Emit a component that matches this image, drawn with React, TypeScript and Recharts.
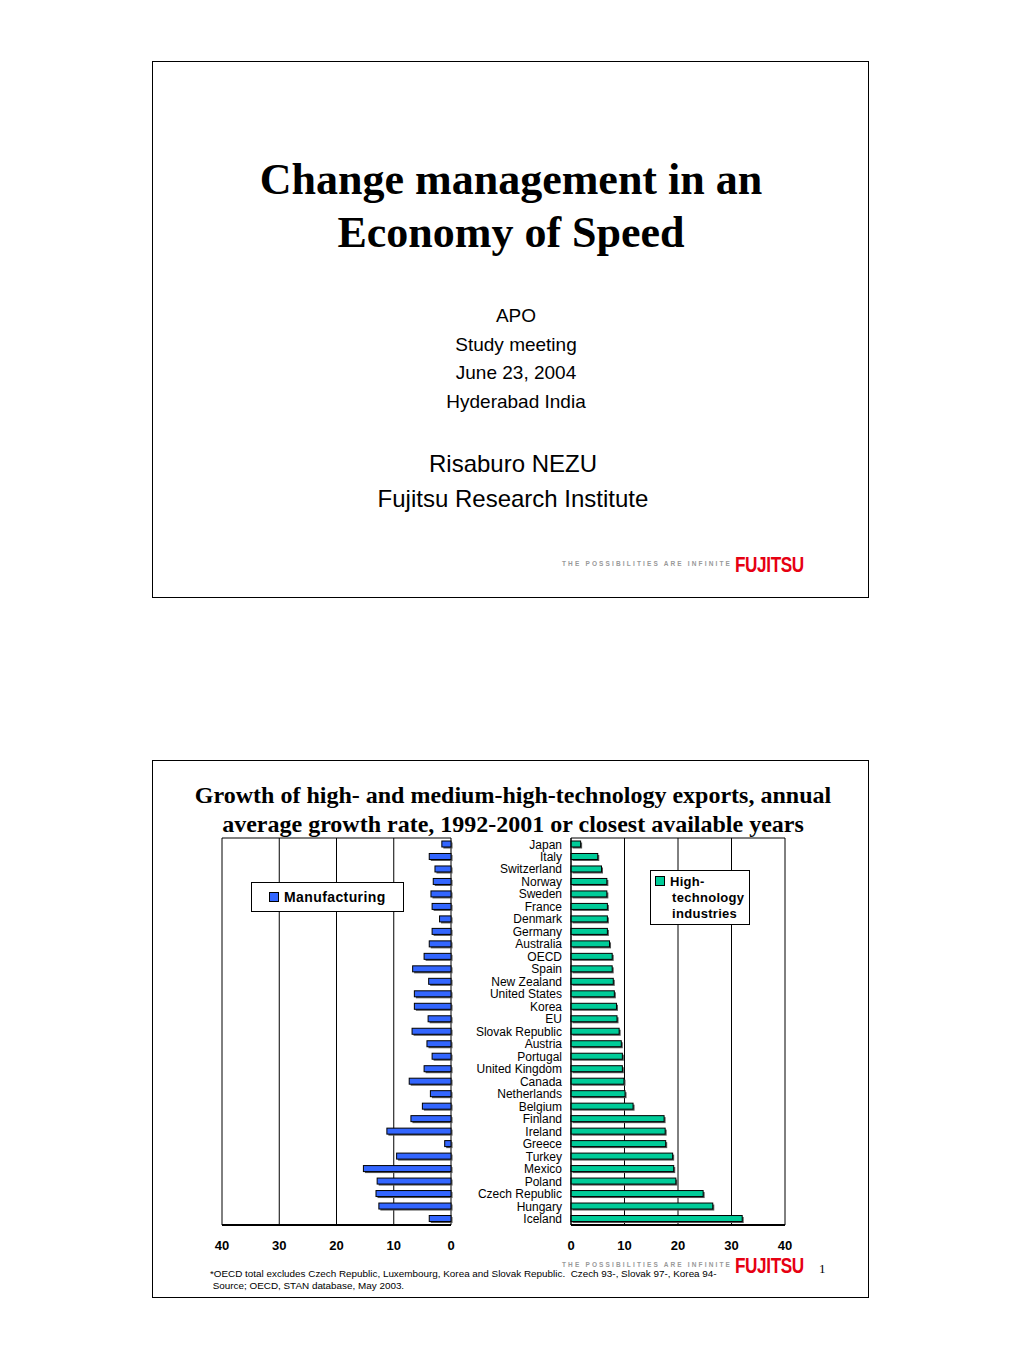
import React from "react";
import { BarChart, Bar, XAxis, YAxis, CartesianGrid } from "recharts";

const countries = [
  "Japan", "Italy", "Switzerland", "Norway", "Sweden", "France", "Denmark", "Germany",
  "Australia", "OECD", "Spain", "New Zealand", "United States", "Korea", "EU",
  "Slovak Republic", "Austria", "Portugal", "United Kingdom", "Canada", "Netherlands",
  "Belgium", "Finland", "Ireland", "Greece", "Turkey", "Mexico", "Poland",
  "Czech Republic", "Hungary", "Iceland",
];

const manufacturing = [
  1.6, 3.8, 2.8, 3.1, 3.5, 3.3, 2.0, 3.3, 3.8, 4.7, 6.7, 3.9, 6.4, 6.4, 4.0,
  6.8, 4.2, 3.3, 4.7, 7.3, 3.6, 5.0, 7.0, 11.2, 1.1, 9.5, 15.3, 12.9, 13.1, 12.6, 3.8,
];

const highTech = [
  1.8, 5.0, 5.7, 6.7, 6.7, 6.8, 6.8, 6.8, 7.2, 7.7, 7.7, 7.9, 8.1, 8.5, 8.6,
  9.0, 9.4, 9.6, 9.6, 9.9, 10.1, 11.6, 17.4, 17.6, 17.7, 19.0, 19.2, 19.6, 24.7, 26.5, 32.0,
];

const ticks = [0, 10, 20, 30, 40];

const data = countries.map((c, i) => ({ country: c, mfg: manufacturing[i], hi: highTech[i] }));

const BLUE = "#3366FF";
const GREEN = "#00CC99";
const SANS = "Arial, 'Liberation Sans', sans-serif";
const SERIF = "'Times New Roman', 'Liberation Serif', serif";

function ShadowBar(props: any) {
  const { x, y, width, height, fill } = props;
  const w = Math.abs(width);
  const left = width < 0 ? x + width : x;
  return (
    <g>
      <rect x={left + 1.5} y={y + 1.5} width={w} height={height} fill="#555" />
      <rect x={left} y={y} width={w} height={height} fill={fill} stroke="#000" strokeWidth={1} />
    </g>
  );
}

const frameLines = ({ offset }: any) => [offset.top, offset.top + offset.height];

function LegendBox({ color, lines, style }: { color: string; lines: string[]; style: any }) {
  return (
    <div
      style={{
        position: "absolute",
        border: "1px solid #000",
        background: "#fff",
        fontFamily: SANS,
        fontWeight: "bold",
        fontSize: 13,
        lineHeight: "16px",
        color: "#000",
        ...style,
      }}
    >
      <span
        style={{
          display: "inline-block",
          width: 8,
          height: 8,
          background: color,
          border: "1px solid #000",
          marginRight: 5,
          verticalAlign: "0px",
        }}
      />
      {lines.map((l, i) => (
        <span key={i} style={{ display: i === 0 ? "inline" : "block", paddingLeft: i === 0 ? 0 : 17 }}>
          {l}
        </span>
      ))}
    </div>
  );
}

function FujitsuLogo({ top }: { top: number }) {
  return (
    <div style={{ position: "absolute", left: 560, top, width: 245, height: 28 }}>
      <div
        style={{
          position: "absolute",
          left: 2,
          top: 9,
          fontFamily: SANS,
          fontSize: 6.5,
          letterSpacing: 2.15,
          color: "#999",
          fontWeight: "bold",
          whiteSpace: "nowrap",
        }}
      >
        THE POSSIBILITIES ARE INFINITE
      </div>
      <div
        style={{
          position: "absolute",
          left: 175,
          top: 1,
          fontFamily: SANS,
          fontSize: 22,
          fontWeight: "bold",
          color: "#E60012",
          letterSpacing: -0.5,
          transform: "scaleX(0.78)",
          transformOrigin: "left top",
          whiteSpace: "nowrap",
        }}
      >
        FUJITSU
      </div>
    </div>
  );
}

const tickStyle = { fontSize: 13, fontWeight: "bold", fill: "#000", fontFamily: SANS };

export default function App() {
  return (
    <div style={{ position: "absolute", left: 0, top: 0, width: 1020, height: 1357, background: "#fff" }}>
      {/* title slide */}
      <div style={{ position: "absolute", left: 152, top: 61, width: 715, height: 535, border: "1.5px solid #000" }} />
      <div
        style={{
          position: "absolute",
          left: 152,
          top: 153,
          width: 718,
          textAlign: "center",
          fontFamily: SERIF,
          fontWeight: "bold",
          fontSize: 44,
          lineHeight: "53px",
          color: "#000",
        }}
      >
        Change management in an
        <br />
        Economy of Speed
      </div>
      <div
        style={{
          position: "absolute",
          left: 152,
          top: 302,
          width: 728,
          textAlign: "center",
          fontFamily: SANS,
          fontSize: 19,
          lineHeight: "28.5px",
          color: "#000",
        }}
      >
        APO
        <br />
        Study meeting
        <br />
        June 23, 2004
        <br />
        Hyderabad India
      </div>
      <div
        style={{
          position: "absolute",
          left: 152,
          top: 446,
          width: 722,
          textAlign: "center",
          fontFamily: SANS,
          fontSize: 24,
          lineHeight: "35px",
          color: "#000",
        }}
      >
        Risaburo NEZU
        <br />
        Fujitsu Research Institute
      </div>
      <FujitsuLogo top={551} />

      {/* chart slide */}
      <div style={{ position: "absolute", left: 152, top: 760, width: 715, height: 536, border: "1.5px solid #000" }} />
      <div
        style={{
          position: "absolute",
          left: 152,
          top: 781,
          width: 722,
          textAlign: "center",
          fontFamily: SERIF,
          fontWeight: "bold",
          fontSize: 24,
          lineHeight: "29px",
          color: "#000",
        }}
      >
        Growth of high- and medium-high-technology exports, annual
        <br />
        average growth rate, 1992-2001 or closest available years
      </div>

      {/* left: manufacturing */}
      <div style={{ position: "absolute", left: 212, top: 828 }}>
        <BarChart
          width={250}
          height={440}
          data={data}
          layout="vertical"
          margin={{ top: 10, right: 11, left: 10, bottom: 13 }}
          barCategoryGap={0}
        >
          <CartesianGrid stroke="#000" strokeWidth={1} horizontalCoordinatesGenerator={frameLines} />
          <XAxis
            type="number"
            domain={[0, 40]}
            ticks={ticks}
            reversed
            height={30}
            tickLine={false}
            tickSize={0}
            tickMargin={16}
            axisLine={{ stroke: "#000", strokeWidth: 2 }}
            tick={tickStyle}
            interval={0}
          />
          <YAxis type="category" dataKey="country" hide />
          <Bar dataKey="mfg" fill={BLUE} barSize={6} shape={<ShadowBar />} isAnimationActive={false} />
        </BarChart>
      </div>

      {/* right: high-technology */}
      <div style={{ position: "absolute", left: 461, top: 828 }}>
        <BarChart
          width={335}
          height={440}
          data={data}
          layout="vertical"
          margin={{ top: 10, right: 11, left: 0, bottom: 13 }}
          barCategoryGap={0}
        >
          <CartesianGrid stroke="#000" strokeWidth={1} horizontalCoordinatesGenerator={frameLines} />
          <XAxis
            type="number"
            domain={[0, 40]}
            ticks={ticks}
            height={30}
            tickLine={false}
            tickSize={0}
            tickMargin={16}
            axisLine={{ stroke: "#000", strokeWidth: 2 }}
            tick={tickStyle}
            interval={0}
          />
          <YAxis
            type="category"
            dataKey="country"
            width={110}
            interval={0}
            tickLine={false}
            tickSize={0}
            tickMargin={9}
            axisLine={{ stroke: "#000", strokeWidth: 1 }}
            tick={{ fontSize: 12, fill: "#000", fontFamily: SANS }}
          />
          <Bar dataKey="hi" fill={GREEN} barSize={6} shape={<ShadowBar />} isAnimationActive={false} />
        </BarChart>
      </div>

      <LegendBox
        color={BLUE}
        lines={["Manufacturing"]}
        style={{ left: 251, top: 882, width: 124, height: 16, padding: "6px 10px 6px 17px", fontSize: 14, letterSpacing: 0.4 }}
      />
      <LegendBox
        color={GREEN}
        lines={["High-", "technology", "industries"]}
        style={{ left: 650, top: 870, width: 92, padding: "3px 2px 2px 4px", letterSpacing: 0.3 }}
      />

      <div
        style={{
          position: "absolute",
          left: 210,
          top: 1268,
          fontFamily: SANS,
          fontSize: 9.9,
          lineHeight: "11.5px",
          color: "#000",
          whiteSpace: "pre",
        }}
      >
        {"*OECD total excludes Czech Republic, Luxembourg, Korea and Slovak Republic.  Czech 93-, Slovak 97-, Korea 94-\n Source; OECD, STAN database, May 2003."}
      </div>
      <FujitsuLogo top={1252} />
      <div style={{ position: "absolute", left: 819, top: 1261, fontFamily: SERIF, fontSize: 13, color: "#000" }}>1</div>
    </div>
  );
}
